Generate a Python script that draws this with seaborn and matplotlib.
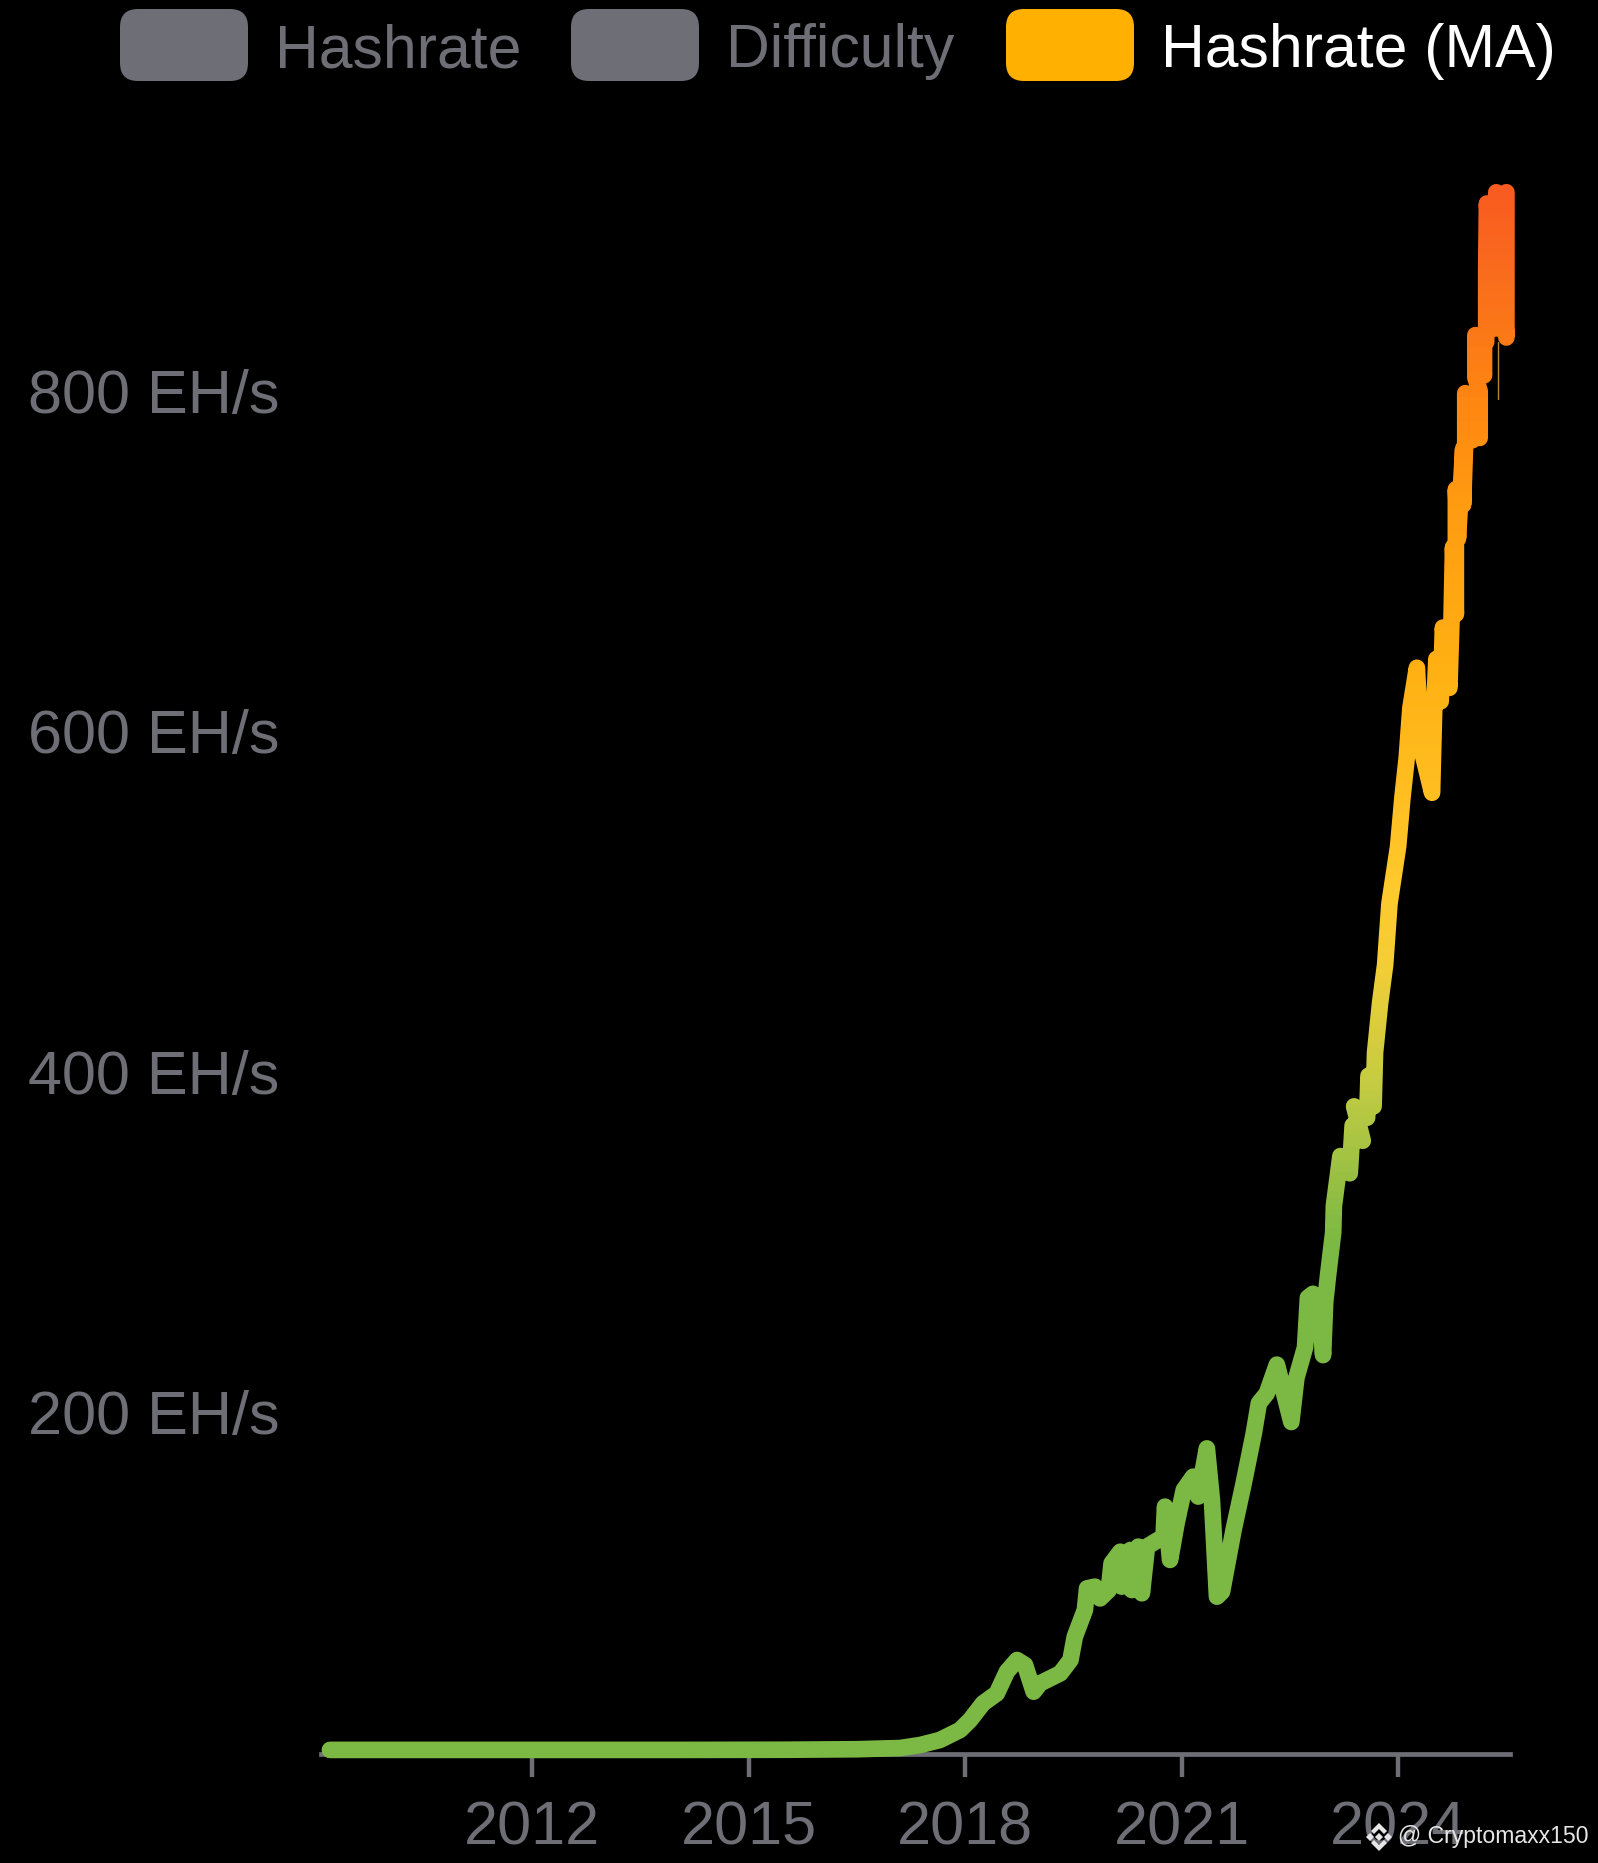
import numpy as np
import pandas as pd
import matplotlib.pyplot as plt
import seaborn as sns
from matplotlib.colors import LinearSegmentedColormap
from matplotlib.patches import FancyBboxPatch, Polygon

# values
years = [2009.2, 2012.0, 2014.0, 2015.5, 2016.5, 2017.10, 2017.38, 2017.65, 2017.93, 2018.07,
         2018.25, 2018.44, 2018.58, 2018.72, 2018.83, 2018.95, 2019.04, 2019.32, 2019.46, 2019.52,
         2019.66, 2019.69, 2019.80, 2019.87, 2019.99, 2020.03, 2020.15, 2020.17, 2020.29, 2020.31,
         2020.40, 2020.45, 2020.52, 2020.75, 2020.77, 2020.84, 2020.93, 2021.03, 2021.16, 2021.23,
         2021.35, 2021.42, 2021.49, 2021.56, 2021.72, 2021.86, 2022.00, 2022.07, 2022.18, 2022.32,
         2022.52, 2022.59, 2022.71, 2022.75, 2022.82, 2022.92, 2022.96, 2022.99, 2023.03, 2023.10,
         2023.11, 2023.20, 2023.33, 2023.37, 2023.51, 2023.39, 2023.57, 2023.59, 2023.66, 2023.68,
         2023.75, 2023.82, 2023.88, 2024.00, 2024.06, 2024.12, 2024.17, 2024.26, 2024.32, 2024.47,
         2024.50, 2024.53, 2024.59, 2024.62, 2024.71, 2024.74, 2024.76, 2024.80, 2024.80, 2024.83,
         2024.90, 2024.90, 2024.93, 2024.93, 2025.03, 2025.03, 2025.13, 2025.13, 2025.07, 2025.07,
         2025.19, 2025.19, 2025.22, 2025.22, 2025.23, 2025.36, 2025.36, 2025.50, 2025.50]
hashrate_ma = [1.8, 1.8, 1.8, 1.9, 2.2, 2.9, 4.7, 7.6, 13.5, 19.4,
               29.2, 35.0, 47.8, 54.6, 51.7, 36.0, 40.9, 46.8, 54.6, 68.3,
               84.0, 96.7, 97.7, 90.8, 95.7, 111.4, 118.2, 97.7, 119.2, 95.7,
               121.2, 93.8, 121.2, 127.1, 144.7, 113.4, 134.9, 154.5, 162.3, 150.6,
               178.9, 148.6, 91.8, 94.7, 131.0, 158.4, 187.7, 205.4, 211.2, 228.1,
               194.4, 220.3, 238.2, 267.4, 269.7, 256.2, 233.7, 265.2, 280.9, 305.6,
               321.4, 350.6, 340.5, 368.6, 359.6, 379.8, 373.1, 397.8, 379.8, 411.3,
               440.5, 463.0, 499.0, 532.5, 561.3, 584.9, 613.8, 637.4, 590.2, 564.0,
               613.8, 642.6, 617.7, 661.0, 625.6, 666.2, 708.2, 668.9, 742.3, 713.4,
               765.9, 733.1, 771.1, 798.7, 771.1, 798.7, 772.4, 800.0, 807.8, 832.8,
               809.2, 832.8, 828.8, 870.8, 910.1, 836.7, 916.7, 831.4, 916.7]
spike_years = [2025.38, 2025.38]
spike_values = [829, 795]

x_ticks = [2012, 2015, 2018, 2021, 2024]
y_ticks = [200, 400, 600, 800]
y_tick_labels = ["200 EH/s", "400 EH/s", "600 EH/s", "800 EH/s"]
legend_labels = ["Hashrate", "Difficulty", "Hashrate (MA)"]

GREY = "#6e6f76"
W, H = 1598, 1863

sns.set_theme(style="dark", rc={"figure.facecolor": "black", "axes.facecolor": "black"})
plt.rcParams["font.family"] = ["Liberation Sans", "DejaVu Sans"]

fig = plt.figure(figsize=(W / 100, H / 100), dpi=100)
ax = fig.add_axes([321 / W, (H - 1754) / H, (1510 - 321) / W, (1754 - 100) / H])

df = pd.DataFrame({"year": years, "hashrate": hashrate_ma})
sns.lineplot(data=df, x="year", y="hashrate", sort=False, estimator=None, errorbar=None,
             color="#7cb944", solid_capstyle="round", solid_joinstyle="round",
             clip_on=False, ax=ax)
ax.lines[0].set_linewidth(12)
ax.lines[0].set_zorder(3)

# colour runs with height, so the drawn line gets recoloured row by row
stops = [(0.0, "#7cb944"), (300 / 930, "#7cb944"), (395 / 930, "#c6cc42"), (465 / 930, "#f5ce36"),
         (510 / 930, "#ffc92c"), (640 / 930, "#ffb012"), (732 / 930, "#ff9c12"), (784 / 930, "#ff8a10"),
         (876 / 930, "#f96a1e"), (915 / 930, "#f95c20"), (1.0, "#f95c20")]
gradient = LinearSegmentedColormap.from_list("hash", stops)


def recolour(img, dpi):
    h = img.shape[0]
    rows = np.linspace(max(hashrate_ma) + 4, min(hashrate_ma) - 4, h) / 930
    out = img.copy()
    out[..., :3] = gradient(rows)[:, :3][:, None, :]
    return out, 0, 0


ax.lines[0].set_agg_filter(recolour)
sns.lineplot(x=spike_years, y=spike_values, sort=False, estimator=None, errorbar=None,
             color="#b08a30", linewidth=1.0, ax=ax)

ax.set_xlim(2009.076, 2025.55)
ax.set_ylim(-0.6, 970.9)
ax.set_xlabel("")
ax.set_ylabel("")
ax.set_xticks(x_ticks, [str(y) for y in x_ticks])
ax.set_yticks(y_ticks, y_tick_labels)
ax.grid(False)
ax.tick_params(axis="x", bottom=True, length=16.5, width=3.2, color=GREY, labelcolor=GREY,
               labelsize=44, pad=17)
ax.tick_params(axis="y", left=False, length=0, labelcolor=GREY, labelsize=44, pad=30)
for side in ["left", "right", "top"]:
    ax.spines[side].set_visible(False)
ax.spines["bottom"].set_color(GREY)
ax.spines["bottom"].set_linewidth(3.4)


def to_fig(px, py):
    return px / W, 1 - py / H


# legend across the top
boxes = [(120, 248, GREY, 275, GREY), (571, 699, GREY, 726, GREY), (1006, 1134, "#ffb000", 1161, "white")]
for label, (left, right, face, text_x, text_c) in zip(legend_labels, boxes):
    fig.add_artist(FancyBboxPatch((left + 18, H - 81 + 18), right - left - 36, 36,
                                  boxstyle="round,pad=18,rounding_size=18",
                                  fc=face, ec="none", lw=0, transform=None))
    fx, fy = to_fig(text_x, 52)
    fig.text(fx, fy, label, color=text_c, fontsize=43.7, ha="left", va="center")

# watermark
fx, fy = to_fig(1398, 1837)
fig.text(fx, fy, "@ Cryptomaxx150", color="#e6e6e6", fontsize=16.6, ha="left", va="center")
cx, cy = 1379, 1837
icon = [
    [(0, -4), (4, 0), (0, 4), (-4, 0)],
    [(-13, 0), (-9, -4), (-5, 0), (-9, 4)],
    [(13, 0), (9, -4), (5, 0), (9, 4)],
    [(-8, -6), (0, -14), (8, -6), (5, -3), (0, -8), (-5, -3)],
    [(-8, 6), (0, 14), (8, 6), (5, 3), (0, 8), (-5, 3)],
]
for shape in icon:
    fig.add_artist(Polygon([to_fig(cx + a, cy + b) for a, b in shape], closed=True,
                           fc="#e6e6e6", ec="none", transform=fig.transFigure))

fig.savefig("out.png", dpi=100, facecolor="black")
